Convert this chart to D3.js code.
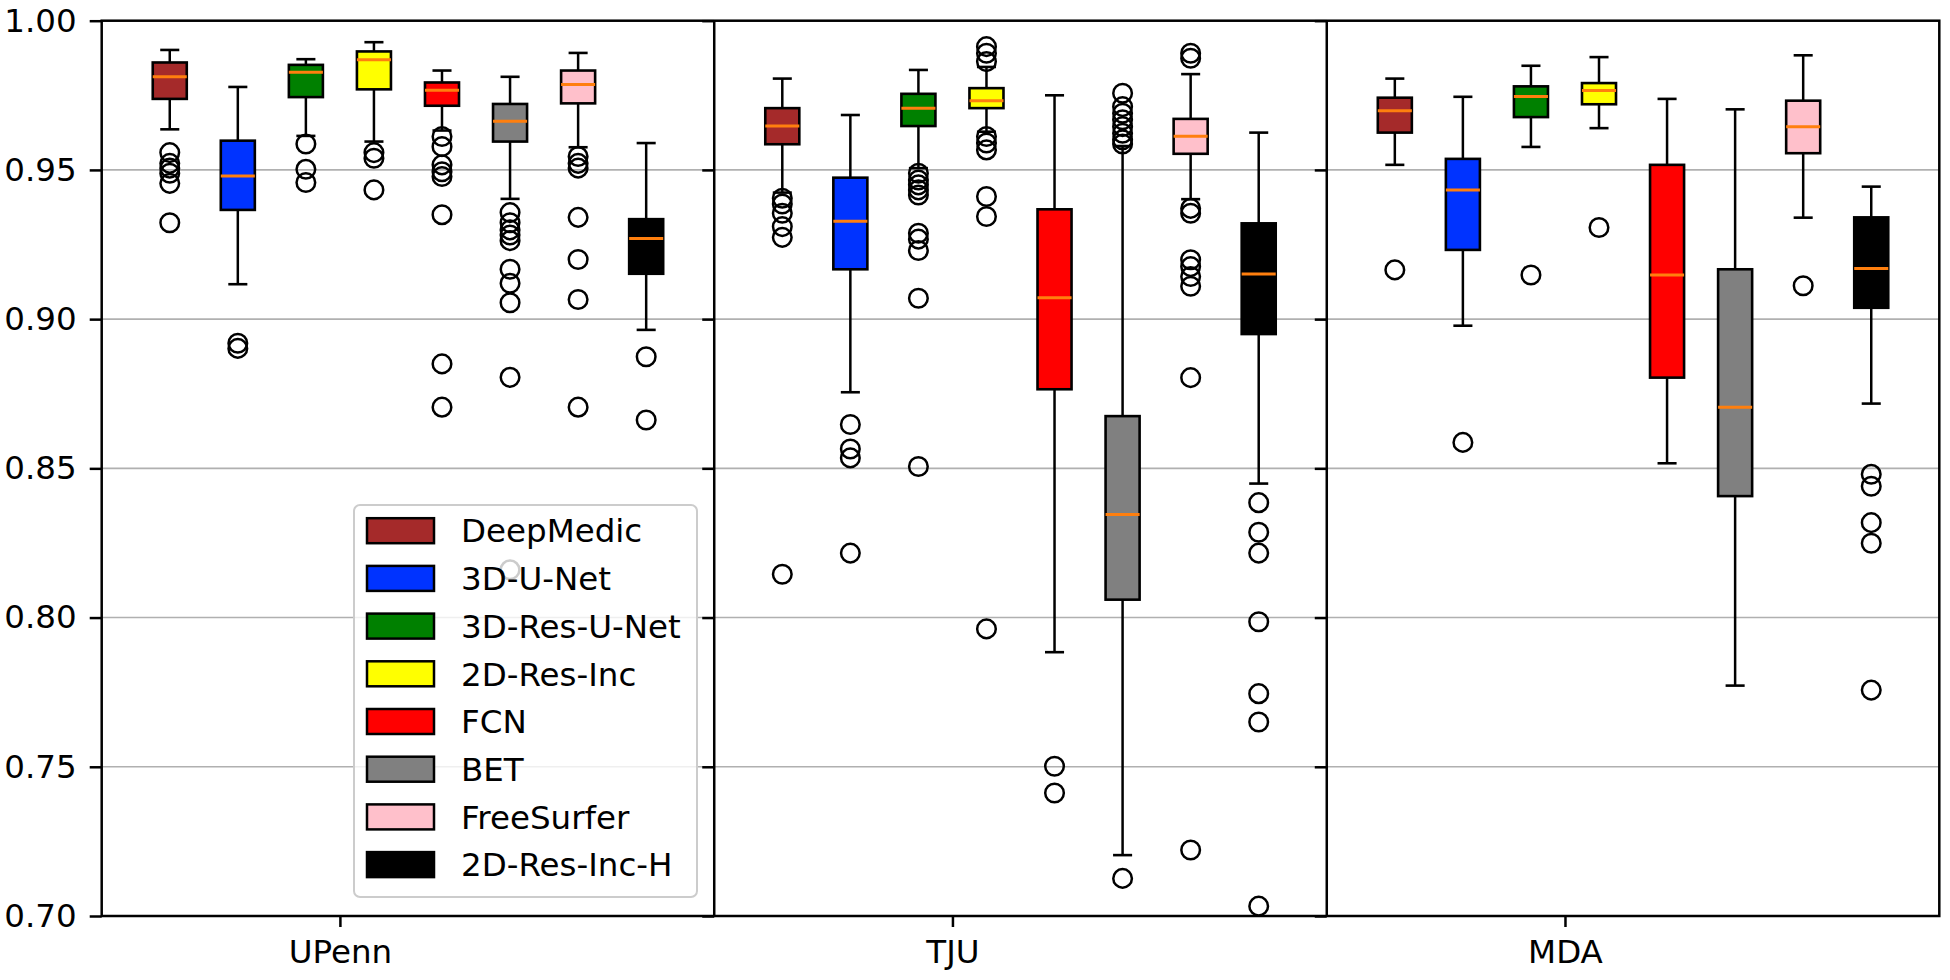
<!DOCTYPE html>
<html>
<head>
<meta charset="utf-8">
<script src="https://cdn.jsdelivr.net/npm/d3@7"></script>
<style>
  html, body { margin: 0; padding: 0; background: #fff; }
  svg { display: block; font-family: "DejaVu Sans", sans-serif; }
</style>
</head>
<body>
<svg id="chart" width="1950" height="980"></svg>
<script>
// ---------------- data ----------------
const datasets = ["UPenn", "TJU", "MDA"];
const methods = ["DeepMedic", "3D-U-Net", "3D-Res-U-Net", "2D-Res-Inc", "FCN", "BET", "FreeSurfer", "2D-Res-Inc-H"];
const methodColors = ["#a52a2a", "#0033ff", "#008000", "#ffff00", "#ff0000", "#808080", "#ffc0cb", "#000000"];
const yTicks = [0.70, 0.75, 0.80, 0.85, 0.90, 0.95, 1.00];

// per method: [lower whisker, Q1, median, Q3, upper whisker]
const upennStats = [
  [0.9636, 0.9738, 0.9812, 0.9860, 0.9902],
  [0.9117, 0.9366, 0.9480, 0.9598, 0.9778],
  [0.9614, 0.9744, 0.9827, 0.9852, 0.9871],
  [0.9595, 0.9770, 0.9869, 0.9897, 0.9928],
  [0.9632, 0.9715, 0.9767, 0.9793, 0.9833],
  [0.9403, 0.9595, 0.9663, 0.9721, 0.9812],
  [0.9576, 0.9723, 0.9786, 0.9833, 0.9892],
  [0.8964, 0.9152, 0.9270, 0.9335, 0.9590]
];
const upennOutliers = [
  [0.9558, 0.9522, 0.9506, 0.9489, 0.9455, 0.9323],
  [0.8919, 0.8902],
  [0.9587, 0.9502, 0.9458],
  [0.9558, 0.9539, 0.9433],
  [0.9612, 0.9578, 0.9517, 0.9494, 0.9478, 0.9350, 0.8850, 0.8705],
  [0.9357, 0.9323, 0.9299, 0.9282, 0.9263, 0.9167, 0.9120, 0.9055, 0.8805, 0.8160],
  [0.9545, 0.9522, 0.9506, 0.9341, 0.9200, 0.9066, 0.8705],
  [0.8874, 0.8662]
];

const tjuStats = [
  [0.9424, 0.9586, 0.9647, 0.9707, 0.9806],
  [0.8755, 0.9167, 0.9328, 0.9474, 0.9684],
  [0.9506, 0.9647, 0.9707, 0.9755, 0.9835],
  [0.9628, 0.9707, 0.9732, 0.9774, 0.9845],
  [0.7884, 0.8765, 0.9072, 0.9368, 0.9750],
  [0.7204, 0.8060, 0.8345, 0.8675, 0.9580],
  [0.9402, 0.9554, 0.9613, 0.9671, 0.9821],
  [0.8449, 0.8950, 0.9151, 0.9321, 0.9625]
];
const tjuOutliers = [
  [0.9405, 0.9386, 0.9355, 0.9310, 0.9274, 0.8145],
  [0.8647, 0.8565, 0.8535, 0.8216],
  [0.9489, 0.9466, 0.9450, 0.9433, 0.9416, 0.9288, 0.9268, 0.9230, 0.9070, 0.8506],
  [0.9913, 0.9891, 0.9863, 0.9612, 0.9590, 0.9567, 0.9411, 0.9344, 0.7962],
  [0.7502, 0.7412],
  [0.9757, 0.9712, 0.9690, 0.9668, 0.9645, 0.9623, 0.9601, 0.9587, 0.7126],
  [0.9891, 0.9874, 0.9371, 0.9355, 0.9199, 0.9176, 0.9143, 0.9110, 0.8804, 0.7221],
  [0.8385, 0.8286, 0.8216, 0.7986, 0.7745, 0.7650, 0.7033]
];

const mdaStats = [
  [0.9517, 0.9625, 0.9698, 0.9742, 0.9806],
  [0.8978, 0.9232, 0.9433, 0.9537, 0.9745],
  [0.9577, 0.9677, 0.9746, 0.9780, 0.9849],
  [0.9640, 0.9720, 0.9766, 0.9791, 0.9878],
  [0.8517, 0.8804, 0.9148, 0.9517, 0.9738],
  [0.7772, 0.8407, 0.8705, 0.9167, 0.9703],
  [0.9340, 0.9556, 0.9645, 0.9732, 0.9884],
  [0.8717, 0.9038, 0.9170, 0.9341, 0.9444]
];
const mdaOutliers = [
  [0.9165],
  [0.8587],
  [0.9148],
  [0.9307],
  [],
  [],
  [0.9112],
  [0.8480, 0.8440, 0.8318, 0.8249, 0.7757]
];

const allStats = [upennStats, tjuStats, mdaStats];
const allOutliers = [upennOutliers, tjuOutliers, mdaOutliers];

// ---------------- layout ----------------
const svg = d3.select("#chart");
const plotLeft = 101.7, plotRight = 1939.3, plotTop = 20.7, plotBottom = 916;
const perPanel = 9;
const x = d3.scaleLinear().domain([0, perPanel * datasets.length]).range([plotLeft, plotRight]);
const y = d3.scaleLinear().domain([0.70, 1.00]).range([plotBottom, plotTop]);
const unit = x(1) - x(0);
const boxW = 0.5 * unit;
const capW = 0.28 * unit;
const FONT = 32.5;

// gridlines
svg.append("g").selectAll("line").data(yTicks).join("line")
  .attr("x1", plotLeft).attr("x2", plotRight)
  .attr("y1", d => y(d)).attr("y2", d => y(d))
  .attr("stroke", "#b0b0b0").attr("stroke-width", 1.6);

// boxes
datasets.forEach((ds, p) => {
  const g = svg.append("g");
  methods.forEach((m, j) => {
    const s = allStats[p][j];
    const cx = x(p * perPanel + j + 1);
    const col = methodColors[j];
    g.append("line").attr("x1", cx).attr("x2", cx).attr("y1", y(s[0])).attr("y2", y(s[1]))
      .attr("stroke", "#000").attr("stroke-width", 2.5);
    g.append("line").attr("x1", cx).attr("x2", cx).attr("y1", y(s[3])).attr("y2", y(s[4]))
      .attr("stroke", "#000").attr("stroke-width", 2.5);
    [s[0], s[4]].forEach(v => {
      g.append("line").attr("x1", cx - capW / 2).attr("x2", cx + capW / 2)
        .attr("y1", y(v)).attr("y2", y(v))
        .attr("stroke", "#000").attr("stroke-width", 2.6);
    });
    g.append("rect").attr("x", cx - boxW / 2).attr("width", boxW)
      .attr("y", y(s[3])).attr("height", y(s[1]) - y(s[3]))
      .attr("fill", col).attr("stroke", "#000").attr("stroke-width", 2.6);
    g.append("line").attr("x1", cx - boxW / 2).attr("x2", cx + boxW / 2)
      .attr("y1", y(s[2])).attr("y2", y(s[2]))
      .attr("stroke", "#ff7f0e").attr("stroke-width", 3);
    g.selectAll(null).data(allOutliers[p][j]).join("circle")
      .attr("cx", cx).attr("cy", d => y(d)).attr("r", 9.3)
      .attr("fill", "none").attr("stroke", "#000").attr("stroke-width", 2.5);
  });
});

// axes per panel
datasets.forEach((ds, p) => {
  const yAxis = d3.axisLeft(y).tickValues(yTicks).tickSize(12).tickPadding(13)
    .tickFormat(p === 0 ? d3.format(".2f") : () => "");
  const ga = svg.append("g").attr("transform", `translate(${x(p * perPanel)},0)`).call(yAxis);
  ga.select(".domain").remove();
  ga.selectAll(".tick line").attr("stroke", "#000").attr("stroke-width", 2.5);
  ga.selectAll("text").attr("font-size", FONT).attr("font-family", "DejaVu Sans").attr("fill", "#000");

  const xAxis = d3.axisBottom(x).tickValues([p * perPanel + 3.5]).tickSize(11).tickPadding(13)
    .tickFormat(() => ds);
  const gx = svg.append("g").attr("transform", `translate(0,${plotBottom})`).call(xAxis);
  gx.select(".domain").remove();
  gx.selectAll(".tick line").attr("stroke", "#000").attr("stroke-width", 2.5);
  gx.selectAll("text").attr("font-size", FONT).attr("font-family", "DejaVu Sans").attr("fill", "#000");
});

// spines: outer frame + dividers
svg.append("rect").attr("x", plotLeft).attr("y", plotTop).attr("width", plotRight - plotLeft).attr("height", plotBottom - plotTop)
  .attr("fill", "none").attr("stroke", "#000").attr("stroke-width", 2.5);
svg.append("g").selectAll("line").data(d3.range(1, datasets.length)).join("line")
  .attr("x1", d => x(d * perPanel)).attr("x2", d => x(d * perPanel))
  .attr("y1", plotTop).attr("y2", plotBottom)
  .attr("stroke", "#000").attr("stroke-width", 2.5);

// legend
const lg = svg.append("g");
const lgX = 354, lgY = 505, lgW = 343, lgH = 392, rowH = 47.7, firstRow = 530.7;
lg.append("rect").attr("x", lgX).attr("y", lgY).attr("width", lgW).attr("height", lgH)
  .attr("rx", 6).attr("fill", "#fff").attr("fill-opacity", 0.8)
  .attr("stroke", "#cccccc").attr("stroke-width", 2);
methods.forEach((m, j) => {
  const cy = firstRow + j * rowH;
  lg.append("rect").attr("x", 367).attr("y", cy - 12.5).attr("width", 67).attr("height", 25)
    .attr("fill", methodColors[j]).attr("stroke", "#000").attr("stroke-width", 2.5);
  lg.append("text").attr("x", 461).attr("y", cy).attr("dy", "0.36em")
    .attr("font-size", FONT).attr("fill", "#000").text(m);
});
</script>
</body>
</html>
